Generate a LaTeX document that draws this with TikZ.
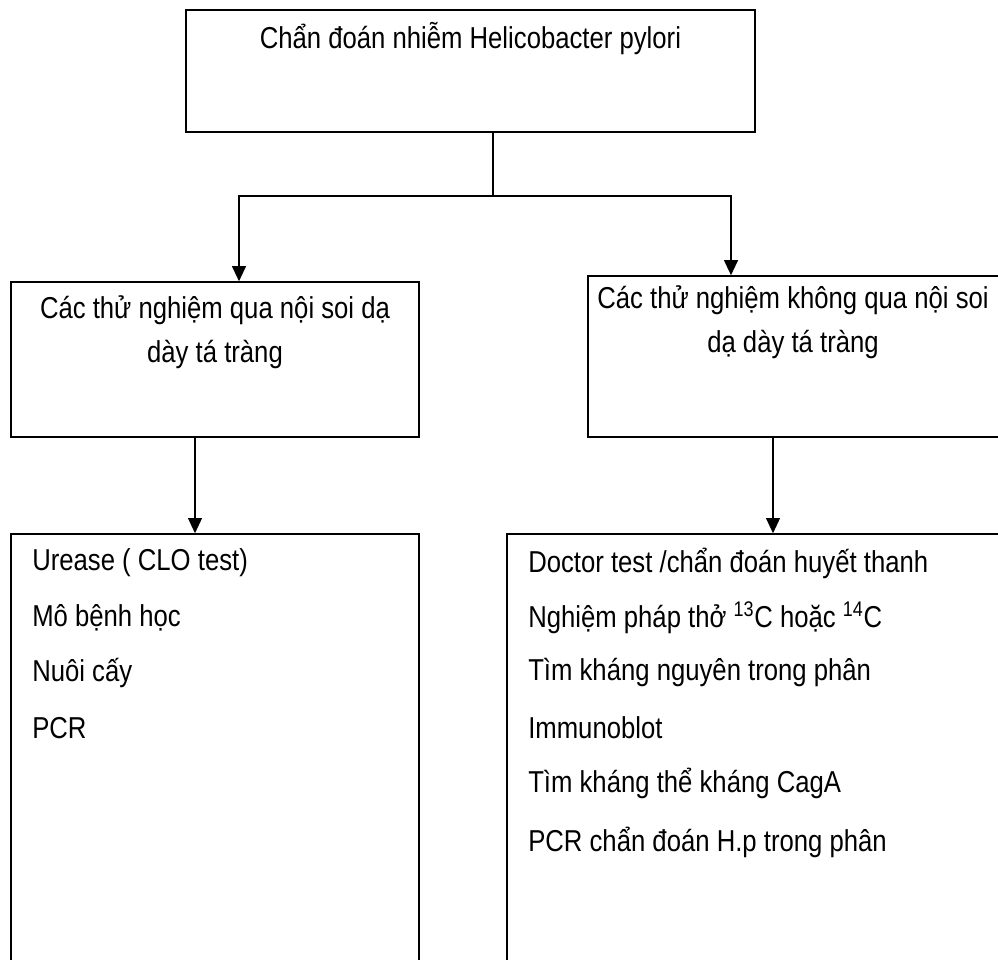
\documentclass[tikz,border=0pt]{standalone}
\usepackage{fontspec}
\setmainfont{Liberation Sans}[FakeStretch=0.85]
\usetikzlibrary{arrows.meta,positioning}

\begin{document}
\begin{tikzpicture}[
    box/.style={draw, line width=1.1pt, inner sep=0pt},
    label/.style={inner sep=0pt, font=\fontsize{21.5}{31.5}\selectfont, align=center},
    item/.style={inner sep=0pt, anchor=west, font=\fontsize{21.5}{29}\selectfont},
    link/.style={line width=1.1pt},
    flow/.style={line width=1.1pt, -{Triangle[width=3.5mm,length=3.8mm]}},
    thinflow/.style={line width=0.8pt, -{Triangle[width=3.5mm,length=3.8mm]}}
]
    \useasboundingbox (0,0) rectangle (24.95,-24);

    % Top box
    \node[box, minimum width=14.225cm, minimum height=3.05cm] (diag) at (11.7625,-1.775) {};
    \node[label] (diagtext) at (11.76,-0.97) {Chẩn đoán nhiễm Helicobacter pylori};

    % Second row
    \node[box, minimum width=10.2cm, minimum height=3.875cm] (endo) at (5.375,-8.9875) {};
    \node[label] (endotext) at (5.375,-8.3) {Các thử nghiệm qua nội soi dạ\\dày tá tràng};

    \node[box, minimum width=10.3cm, minimum height=4.025cm] (nonendo) at (19.85,-8.9125) {};
    \node[label] (nonendotext) at (19.825,-8.05) {Các thử nghiệm không qua nội soi\\dạ dày tá tràng};

    % Bottom row
    \node[box, minimum width=10.2cm, minimum height=11.05cm] (endolist) at (5.375,-18.875) {};
    \node[box, minimum width=12.325cm, minimum height=11.05cm] (nonendolist) at (18.8375,-18.875) {};

    \node[item] (urease) at (0.8,-14.075) {Urease ( CLO test)};
    \node[item] (histo) at (0.8,-15.45) {Mô bệnh học};
    \node[item] (culture) at (0.8,-16.825) {Nuôi cấy};
    \node[item] (pcr) at (0.8,-18.2) {PCR};

    \node[item] (serum) at (13.2,-14.075) {Doctor test /chẩn đoán huyết thanh};
    \node[item] (breath) at (13.2,-15.45) {Nghiệm pháp thở \textsuperscript{13}C hoặc \textsuperscript{14}C};
    \node[item] (stool) at (13.2,-16.825) {Tìm kháng nguyên trong phân};
    \node[item] (blot) at (13.2,-18.2) {Immunoblot};
    \node[item] (caga) at (13.2,-19.575) {Tìm kháng thể kháng CagA};
    \node[item] (stoolpcr) at (13.2,-21.05) {PCR chẩn đoán H.p trong phân};

    % Connectors
    \coordinate (split) at (12.325,-4.9);
    \draw[link] (diag.south -| split) -- (split);
    \draw[flow] (split) -| ([xshift=6mm]endo.north);
    \draw[flow] (split) -| ([xshift=-15.75mm]nonendo.north);

    \draw[thinflow] ([xshift=-5mm]endo.south) -- ([xshift=-5mm]endo.south |- endolist.north);
    \draw[thinflow] ([xshift=-5.25mm]nonendo.south) -- ([xshift=-5.25mm]nonendo.south |- nonendolist.north);
\end{tikzpicture}
\end{document}
